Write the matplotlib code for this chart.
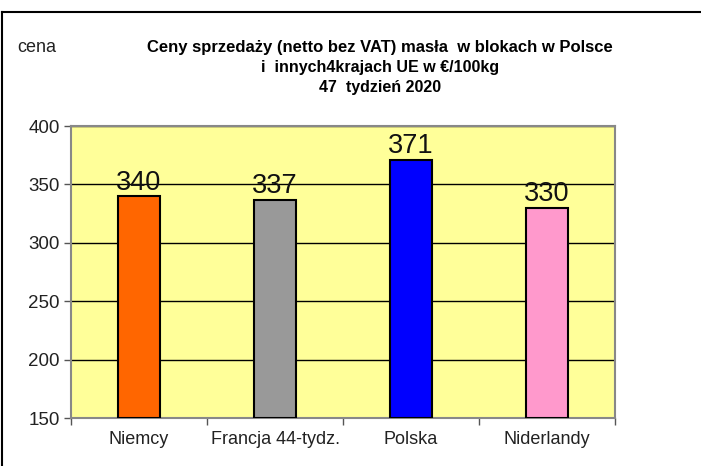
import matplotlib.pyplot as plt
from matplotlib.lines import Line2D

kraje = ["Niemcy", "Francja 44-tydz.", "Polska", "Niderlandy"]
ceny = [340, 337, 371, 330]
kolory = ["#FF6600", "#999999", "#0000FF", "#FF99CC"]

plt.rcParams['font.family'] = ['Liberation Sans', 'DejaVu Sans']

fig = plt.figure(figsize=(7.01, 4.66), dpi=100)
ax = fig.add_axes([0.1013, 0.103, 0.776, 0.6266])
ax.set_facecolor("#FFFF99")

x = range(len(kraje))
ax.bar(x, [c - 150 for c in ceny], bottom=150, width=0.31, color=kolory,
       edgecolor="black", linewidth=1.5, zorder=3)

for i, c in zip(x, ceny):
    ax.text(i, c + 0.5, str(c), ha="center", va="bottom", fontsize=19.5,
            color="#111111", zorder=4)

ax.set_ylim(150, 400)
ax.set_xlim(-0.5, len(kraje) - 0.5)
ax.set_yticks(range(150, 401, 50))
ax.yaxis.grid(True, color="black", linewidth=1, zorder=1)
ax.set_axisbelow(True)

ax.set_xticks(list(x))
ax.set_xticklabels(kraje, fontsize=13, color="#222222")
ax.set_xticks([i - 0.5 for i in range(len(kraje) + 1)], minor=True)
ax.tick_params(axis="x", which="major", length=0, pad=9)
ax.tick_params(axis="x", which="minor", length=5, width=1, color="#555555")
ax.tick_params(axis="y", length=5, width=1, color="#555555", labelsize=13.5,
               labelcolor="#222222", pad=3)

for s in ax.spines.values():
    s.set_color("#888888")
    s.set_linewidth(1.5)

fig.text(0.542, 0.897, "Ceny sprzedaży (netto bez VAT) masła  w blokach w Polsce",
         ha="center", va="center", fontsize=12, fontweight="bold")
fig.text(0.542, 0.855, "i  innych4krajach UE w €/100kg",
         ha="center", va="center", fontsize=11.5, fontweight="bold")
fig.text(0.542, 0.813, "47  tydzień 2020",
         ha="center", va="center", fontsize=11.5, fontweight="bold")
fig.text(0.053, 0.897, "cena", ha="center", va="center", fontsize=13,
         color="#222222")

# ramka wykresu
fig.add_artist(Line2D([0.003, 1.0], [0.974, 0.974], color="black", linewidth=1.5))
fig.add_artist(Line2D([0.003, 0.003], [0.0, 0.974], color="black", linewidth=1.5))

fig.savefig("out.png", dpi=100)
